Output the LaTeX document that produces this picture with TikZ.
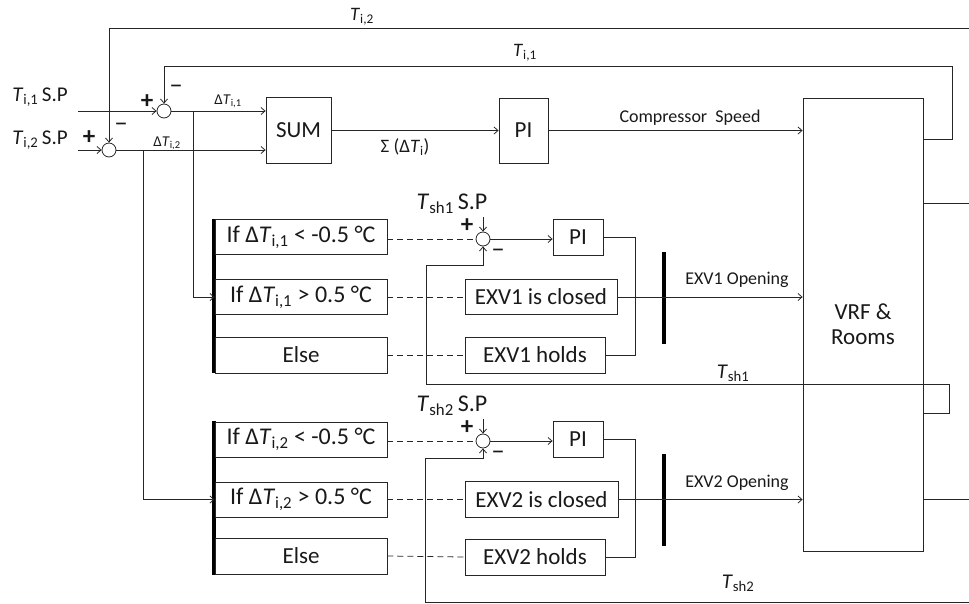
\documentclass[tikz,border=0pt]{standalone}
\usepackage{fontspec}
\setmainfont{Carlito}
\usetikzlibrary{arrows.meta,calc}
\newcommand\TT[1]{\textit{T}\textsubscript{#1}}
\begin{document}
\begin{tikzpicture}[x=1pt,y=-1pt,
  every node/.style={inner sep=0pt, text=black!90},
  ln/.style={line width=0.8pt, draw=black!85},
  arr/.style={-{Straight Barb[length=4pt,width=7pt]}},
  dsh/.style={dash pattern=on 6pt off 4pt},
  blk/.style={draw=black!85, line width=0.8pt, font=\fontsize{23}{25}\selectfont},
  ifblk/.style={blk, font=\fontsize{24}{26}\selectfont},
  sumj/.style={circle, draw=black!85, line width=0.8pt, minimum size=14pt},
  thick bar/.style={fill=black, minimum width=4pt},
  fbig/.style={font=\fontsize{21}{24}\selectfont},
  fsp/.style={font=\fontsize{24}{26}\selectfont},
  fmd/.style={font=\fontsize{19}{22}\selectfont},
  fsh/.style={font=\fontsize{21}{24}\selectfont},
  fcs/.style={font=\fontsize{18}{20}\selectfont},
  fsm/.style={font=\fontsize{15}{17}\selectfont},
  sgn/.style={font=\bfseries\fontsize{25}{25}\selectfont},
  msgn/.style={font=\fontsize{27}{27}\selectfont}]
\useasboundingbox (0,0) rectangle (969,603);

% ---- top part
\node[fbig] (sp1) at (40,97) {\TT{i,1}\,S.P};
\node[fbig] (sp2) at (40,140) {\TT{i,2}\,S.P};
\coordinate (in1) at (78,111);
\coordinate (in2) at (78,150);
\node[sumj] (j1) at (164,111) {};
\node[sumj] (j2) at (109,150) {};
\node[sgn] (p1) at (147,102) {+};
\node[msgn] (m1) at (176,89) {–};
\node[sgn] (p2) at (89,138) {+};
\node[msgn] (m2) at (121,127) {–};
\node[blk, minimum width=65pt, minimum height=66pt] (sum) at (298.5,130) {SUM};
\node[blk, minimum width=49pt, minimum height=65pt] (pi1) at (523.5,130.5) {PI};
\node[blk, minimum width=120pt, minimum height=453pt, align=center] (vrf) at (863,324.5) {VRF \&\\Rooms};
\node[fsm] (dt1) at (228,101) {Δ\TT{i,1}};
\node[fsm] (dt2) at (167,143) {Δ\TT{i,2}};
\node[fmd] (sig) at (405,147) {Σ (Δ\TT{i})};
\node[fcs] (cs) at (690,118) {Compressor\ \ Speed};
\node[fmd] (lti1) at (525,53) {\TT{i,1}};
\node[fmd] (lti2) at (362,17) {\TT{i,2}};
\coordinate (br1) at (193,111);
\coordinate (br2) at (143,150);
\coordinate (e2) at (969,28);

\draw[ln,arr] (in1) -- (j1.west);
\draw[ln,arr] (in2) -- (j2.west);
\draw[ln,arr] (vrf.east |- 0,139) -- (952,139) -- (952,66) -| (j1.north);
\draw[ln,arr] (e2) -| (j2.north);
\draw[ln,arr] (j1.east) -- (j1.east -| sum.west);
\draw[ln,arr] (j2.east) -- (j2.east -| sum.west);
\draw[ln,arr] (sum.east |- pi1.west) -- (pi1.west);
\draw[ln,arr] (pi1.east) -- (pi1.east -| vrf.west);
\draw[ln] (vrf.east |- 0,203) -- (969,203);

% ---- middle part (EXV1)
\node[thick bar, minimum height=154pt] (bl1) at (214,296) {};
\node[ifblk, minimum width=172pt, minimum height=35pt] (a1) at (301,237) {If Δ\TT{i,1} < -0.5 °C};
\node[ifblk, minimum width=172pt, minimum height=35pt] (a2) at (301,297) {If Δ\TT{i,1} > 0.5 °C};
\node[blk, minimum width=172pt, minimum height=36pt] (a3) at (301,355) {Else};
\node[sumj] (j3) at (483,239) {};
\node[fsp] (tsp1) at (452,204) {\TT{sh1}\,S.P};
\coordinate (t1) at (483,217);
\node[sgn] (p3) at (467,226) {+};
\node[msgn] (m3) at (498,253) {–};
\node[blk, minimum width=50pt, minimum height=36pt] (pi2) at (578,237) {PI};
\node[blk, minimum width=152pt, minimum height=35pt] (cl1) at (541,297) {EXV1 is closed};
\node[blk, minimum width=140pt, minimum height=36pt] (hd1) at (535,355) {EXV1 holds};
\node[thick bar, minimum height=92pt] (bv1) at (664,298) {};
\node[fcs] (ex1) at (737,280) {EXV1 Opening};
\node[fsh] (ltsh1) at (733,373) {\TT{sh1}};

\draw[ln,arr] (br1) |- (a2.west);
\draw[ln,dsh] (a1.east |- j3.west) -- (j3.west);
\draw[ln,dsh] (a2.east) -- (cl1.west);
\draw[ln,dsh] (a3.east) -- (hd1.west);
\draw[ln,arr] (t1) -- (j3.north);
\draw[ln,arr] (j3.east) -- (j3.east -| pi2.west);
\draw[ln] (pi2.east) -- ++(32,0) |- (hd1.east);
\draw[ln,arr] (cl1.east) -- (cl1.east -| vrf.west);
\draw[ln,arr] (vrf.east |- 0,413) -- (949,413) -- (949,384) -| (426,265) -| (j3.south);

% ---- bottom part (EXV2)
\node[thick bar, minimum height=154pt] (bl2) at (214,498) {};
\node[ifblk, minimum width=172pt, minimum height=35pt] (b1) at (301,439.5) {If Δ\TT{i,2} < -0.5 °C};
\node[ifblk, minimum width=172pt, minimum height=35pt] (b2) at (301,499.5) {If Δ\TT{i,2} > 0.5 °C};
\node[blk, minimum width=172pt, minimum height=36pt] (b3) at (301,556) {Else};
\node[sumj] (j4) at (483,441) {};
\node[fsp] (tsp2) at (452,406) {\TT{sh2}\,S.P};
\coordinate (t2) at (483,419);
\node[sgn] (p4) at (467,428) {+};
\node[msgn] (m4) at (498,455) {–};
\node[blk, minimum width=50pt, minimum height=36pt] (pi3) at (578,439) {PI};
\node[blk, minimum width=153pt, minimum height=36pt] (cl2) at (541.5,499.5) {EXV2 is closed};
\node[blk, minimum width=140pt, minimum height=36pt] (hd2) at (535,557) {EXV2 holds};
\node[thick bar, minimum height=92pt] (bv2) at (664,500) {};
\node[fcs] (ex2) at (737,483) {EXV2 Opening};
\node[fsh] (ltsh2) at (738,583) {\TT{sh2}};
\coordinate (e3) at (969,602);

\draw[ln,arr] (br2) |- (b2.west);
\draw[ln,dsh] (b1.east |- j4.west) -- (j4.west);
\draw[ln,dsh] (b2.east) -- (cl2.west);
\draw[ln,dsh] (b3.east) -- (hd2.west);
\draw[ln,arr] (t2) -- (j4.north);
\draw[ln,arr] (j4.east) -- (j4.east -| pi3.west);
\draw[ln] (pi3.east) -- ++(32,0) |- (hd2.east);
\draw[ln,arr] (cl2.east) -- (cl2.east -| vrf.west);
\draw[ln] (vrf.east |- cl2.east) -- (969,499.5);
\draw[ln,arr] (e3) -| (425,458) -| (j4.south);
\end{tikzpicture}
\end{document}
